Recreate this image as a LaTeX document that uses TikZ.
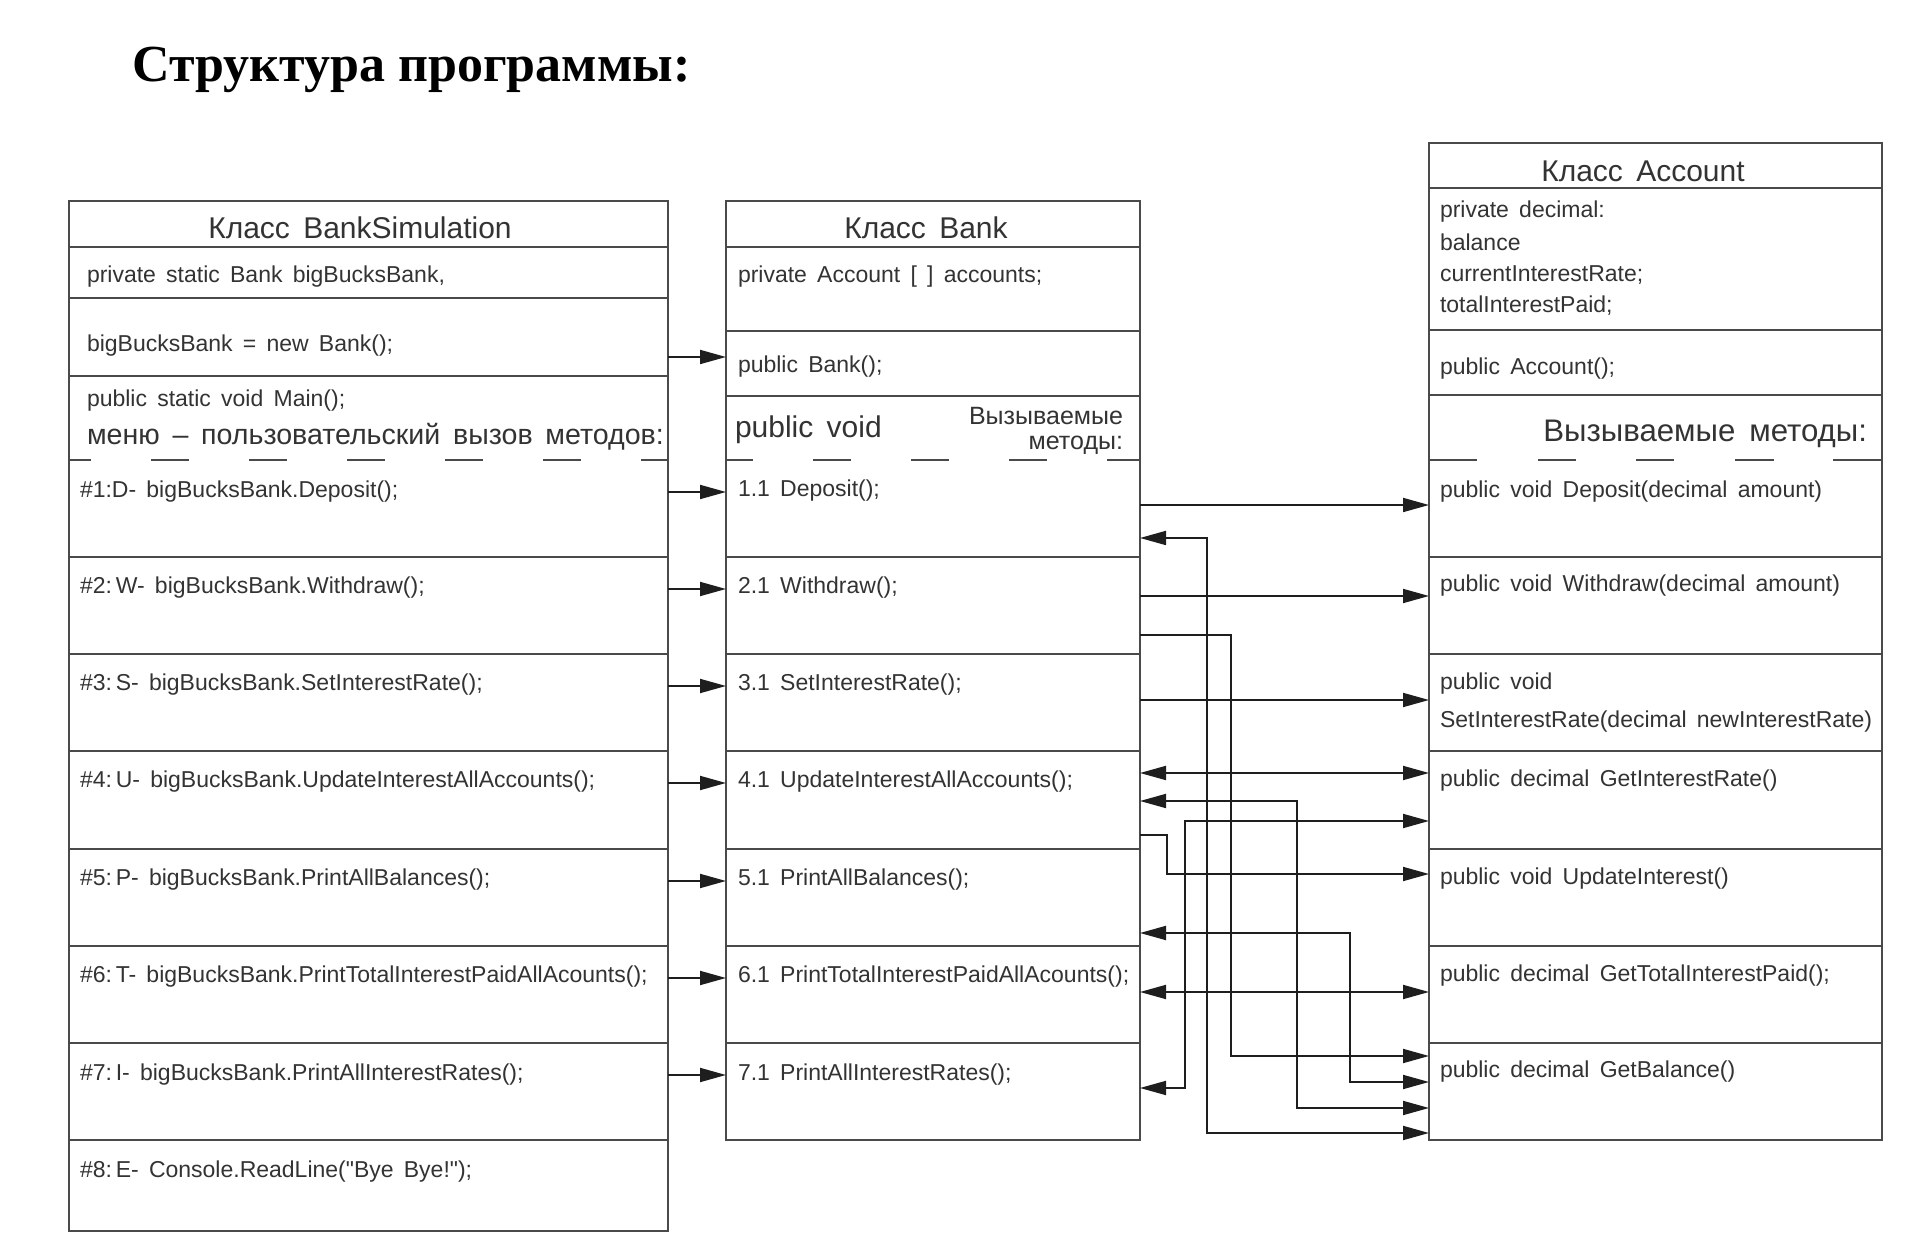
\documentclass[tikz,border=0pt]{standalone}
\usepackage{fontspec}
\setmainfont{Liberation Sans}[WordSpace=1.6, Ligatures=TeXOff]
\newfontfamily\titlefont{Liberation Serif}
\usetikzlibrary{arrows.meta,calc,fit}
\definecolor{boxgray}{HTML}{4A4A4A}
\definecolor{txtgray}{HTML}{333333}
\definecolor{lngray}{HTML}{1E1E1E}
\newcommand{\mkbox}[6][]{%
  \coordinate (#2-a) at (#3,#4);
  \coordinate (#2-b) at (#5,#6);
  \node[cellbox,fit=(#2-a)(#2-b),#1] (#2) {};}
\tikzset{
  cellbox/.style={inner sep=0pt, outer sep=0pt},
  classbox/.style={draw=boxgray, line width=1pt},
  sep/.style={draw=boxgray, line width=1pt},
  dsep/.style={draw=boxgray, line width=1pt, dash pattern=on 19pt off 30pt},
  txt/.style={anchor=base west, inner sep=0pt, outer sep=0pt, text=txtgray,
              font=\fontsize{11.5}{13}\selectfont},
  ttl/.style={anchor=base, inner sep=0pt, outer sep=0pt, text=txtgray,
              font=\fontsize{15}{18}\selectfont},
  conn/.style={draw=lngray, line width=0.9pt},
  tip/.tip={Triangle[length=13pt,width=7pt]},
  arr/.style={conn, -tip},
  arrb/.style={conn, tip-tip},
}
\begin{document}
\begin{tikzpicture}[x=0.5pt,y=-0.5pt]
\fill[white] (0,0) rectangle (1924,1234);
\useasboundingbox (0,0) rectangle (1924,1234);

\node[anchor=base west, inner sep=0pt, font=\titlefont\bfseries\fontsize{26}{30}\selectfont] (title) at (132,82) {Структура программы:};

% ---------- Класс BankSimulation ----------
\mkbox{lt}{69}{201}{668}{247}
\mkbox{lf}{69}{247}{668}{298}
\mkbox{lc}{69}{298}{668}{376}
\mkbox{lm}{69}{376}{668}{460}
\mkbox{l1}{69}{460}{668}{557}
\mkbox{l2}{69}{557}{668}{654}
\mkbox{l3}{69}{654}{668}{751}
\mkbox{l4}{69}{751}{668}{849}
\mkbox{l5}{69}{849}{668}{946}
\mkbox{l6}{69}{946}{668}{1043}
\mkbox{l7}{69}{1043}{668}{1140}
\mkbox{l8}{69}{1140}{668}{1231}
\mkbox[classbox]{L}{69}{201}{668}{1231}
\foreach \r in {lf,lc,lm,l2,l3,l4,l5,l6,l7,l8}
  \draw[sep] (\r.north west) -- (\r.north east);
\draw[dsep, dash phase=8pt] (l1.north west) -- (l1.north east);

% ---------- Класс Bank ----------
\mkbox{mt}{726}{201}{1140}{247}
\mkbox{mf}{726}{247}{1140}{331}
\mkbox{mc}{726}{331}{1140}{396}
\mkbox{mm}{726}{396}{1140}{460}
\mkbox{m1}{726}{460}{1140}{557}
\mkbox{m2}{726}{557}{1140}{654}
\mkbox{m3}{726}{654}{1140}{751}
\mkbox{m4}{726}{751}{1140}{849}
\mkbox{m5}{726}{849}{1140}{946}
\mkbox{m6}{726}{946}{1140}{1043}
\mkbox{m7}{726}{1043}{1140}{1140}
\mkbox[classbox]{M}{726}{201}{1140}{1140}
\foreach \r in {mf,mc,mm,m2,m3,m4,m5,m6,m7}
  \draw[sep] (\r.north west) -- (\r.north east);
\draw[dsep, dash phase=5.5pt] (m1.north west) -- (m1.north east);

% ---------- Класс Account ----------
\mkbox{rt}{1429}{143}{1882}{188}
\mkbox{rf}{1429}{188}{1882}{330}
\mkbox{rc}{1429}{330}{1882}{395}
\mkbox{rm}{1429}{395}{1882}{460}
\mkbox{r1}{1429}{460}{1882}{557}
\mkbox{r2}{1429}{557}{1882}{654}
\mkbox{r3}{1429}{654}{1882}{751}
\mkbox{r4}{1429}{751}{1882}{849}
\mkbox{r5}{1429}{849}{1882}{946}
\mkbox{r6}{1429}{946}{1882}{1043}
\mkbox{r7}{1429}{1043}{1882}{1140}
\mkbox[classbox]{R}{1429}{143}{1882}{1140}
\foreach \r in {rf,rc,rm,r2,r3,r4,r5,r6,r7}
  \draw[sep] (\r.north west) -- (\r.north east);
\draw[sep, dash pattern=on 24pt off 30.5pt on 19pt off 30pt on 19pt off 30.5pt on 19.5pt off 29.5pt on 24.5pt off 10pt] (r1.north west) -- (r1.north east);

% ---------- texts: BankSimulation ----------
\node[ttl] (tlt) at (360,239) {Класс BankSimulation};
\node[txt] (tlf) at (87,283) {private static Bank bigBucksBank,};
\node[txt] (tlc) at (87,352) {bigBucksBank = new Bank();};
\node[txt] (tlm1) at (87,407) {public static void Main();};
\node[txt, font=\fontsize{14.3}{16}\selectfont] (tlm2) at (87,445) {меню – пользовательский вызов методов:};
\node[txt] (tl1) at (80,498) {\#1:D- bigBucksBank.Deposit();};
\node[txt] (tl2) at (80,594) {\#2:\,W- bigBucksBank.Withdraw();};
\node[txt] (tl3) at (80,691) {\#3:\,S- bigBucksBank.SetInterestRate();};
\node[txt] (tl4) at (80,788) {\#4:\,U- bigBucksBank.UpdateInterestAllAccounts();};
\node[txt] (tl5) at (80,886) {\#5:\,P- bigBucksBank.PrintAllBalances();};
\node[txt] (tl6) at (80,983) {\#6:\,T- bigBucksBank.PrintTotalInterestPaidAllAcounts();};
\node[txt] (tl7) at (80,1080) {\#7:\,I- bigBucksBank.PrintAllInterestRates();};
\node[txt] (tl8) at (80,1177) {\#8:\,E- Console.ReadLine("Bye Bye!");};

% ---------- texts: Bank ----------
\node[ttl] (tmt) at (926,239) {Класс Bank};
\node[txt] (tmf) at (738,283) {private Account [ ] accounts;};
\node[txt] (tmc) at (738,373) {public Bank();};
\node[txt, font=\fontsize{15}{18}\selectfont] (tmm1) at (735,438) {public void};
\node[txt, anchor=base east, font=\fontsize{12.5}{14}\selectfont] (tmm2) at (1123,425) {Вызываемые};
\node[txt, anchor=base east, font=\fontsize{12.5}{14}\selectfont] (tmm3) at (1123,450) {методы:};
\node[txt] (tm1) at (738,497) {1.1 Deposit();};
\node[txt] (tm2) at (738,594) {2.1 Withdraw();};
\node[txt] (tm3) at (738,691) {3.1 SetInterestRate();};
\node[txt] (tm4) at (738,788) {4.1 UpdateInterestAllAccounts();};
\node[txt] (tm5) at (738,886) {5.1 PrintAllBalances();};
\node[txt] (tm6) at (738,983) {6.1 PrintTotalInterestPaidAllAcounts();};
\node[txt] (tm7) at (738,1080) {7.1 PrintAllInterestRates();};

% ---------- texts: Account ----------
\node[ttl] (trt) at (1643,182) {Класс Account};
\node[txt] (trf1) at (1440,218) {private decimal:};
\node[txt] (trf2) at (1440,251) {balance};
\node[txt] (trf3) at (1440,282) {currentInterestRate;};
\node[txt] (trf4) at (1440,313) {totalInterestPaid;};
\node[txt] (trc) at (1440,375) {public Account();};
\node[txt, anchor=base east, font=\fontsize{15.6}{18}\selectfont] (trm) at (1867,442) {Вызываемые методы:};
\node[txt] (tr1) at (1440,498) {public void Deposit(decimal amount)};
\node[txt] (tr2) at (1440,592) {public void Withdraw(decimal amount)};
\node[txt] (tr3a) at (1440,690) {public void};
\node[txt] (tr3b) at (1440,728) {SetInterestRate(decimal newInterestRate)};
\node[txt] (tr4) at (1440,787) {public decimal GetInterestRate()};
\node[txt] (tr5) at (1440,885) {public void UpdateInterest()};
\node[txt] (tr6) at (1440,982) {public decimal GetTotalInterestPaid();};
\node[txt] (tr7) at (1440,1078) {public decimal GetBalance()};

% ---------- connectors: BankSimulation -> Bank ----------
\draw[arr] ($(lc.north east)+(0,59)$) -- ($(mc.north west)+(0,26)$);
\foreach \i in {1,...,7}
  \draw[arr] ($(l\i.north east)+(0,32)$) -- ($(m\i.north west)+(0,32)$);

% ---------- connectors: Bank <-> Account ----------
\draw[arr]  ($(m1.north east)+(0,45)$) -- ($(r1.north west)+(0,45)$);
\draw[arrb] ($(m1.north east)+(0,78)$) -- ++(67,0) |- ($(r7.north west)+(0,90)$);
\draw[arr]  ($(m2.north east)+(0,39)$) -- ($(r2.north west)+(0,39)$);
\draw[arr]  ($(m2.north east)+(0,78)$) -- ++(91,0) |- ($(r7.north west)+(0,13)$);
\draw[arr]  ($(m3.north east)+(0,46)$) -- ($(r3.north west)+(0,46)$);
\draw[arrb] ($(m4.north east)+(0,22)$) -- ($(r4.north west)+(0,22)$);
\draw[arrb] ($(m4.north east)+(0,50)$) -- ++(157,0) |- ($(r7.north west)+(0,65)$);
\draw[arrb] ($(m7.north east)+(0,45)$) -- ++(45,0) |- ($(r4.north west)+(0,70)$);
\draw[arr]  ($(m4.north east)+(0,84)$) -- ++(27,0) |- ($(r5.north west)+(0,25)$);
\draw[arrb] ($(m5.north east)+(0,84)$) -- ++(210,0) |- ($(r7.north west)+(0,39)$);
\draw[arrb] ($(m6.north east)+(0,46)$) -- ($(r6.north west)+(0,46)$);
\end{tikzpicture}
\end{document}
